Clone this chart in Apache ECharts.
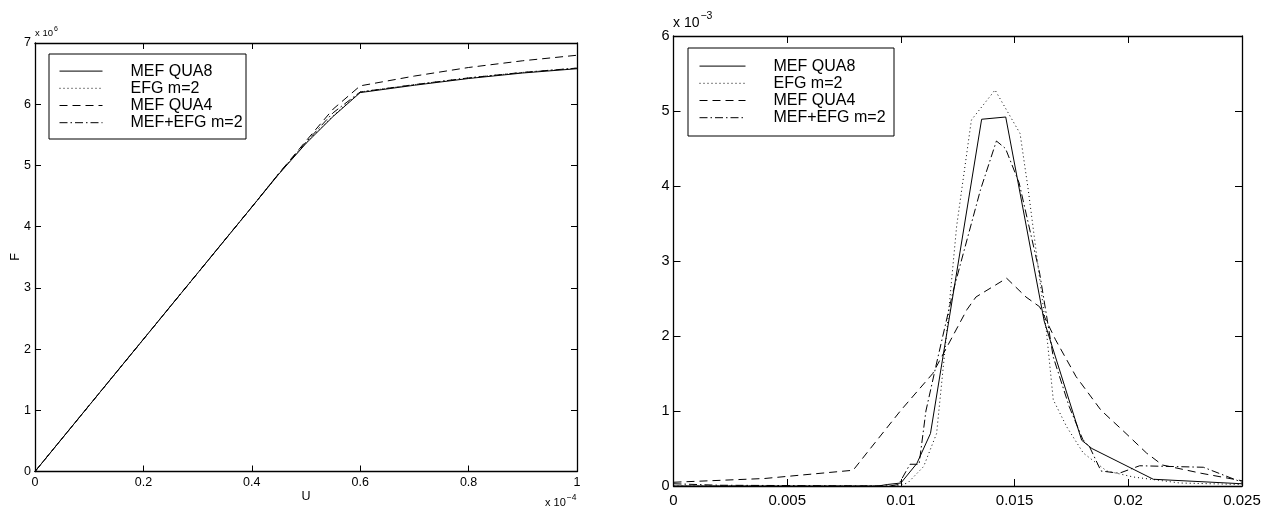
<!DOCTYPE html>
<html><head><meta charset="utf-8">
<script src="https://cdn.jsdelivr.net/npm/echarts@6/dist/echarts.min.js"></script>
<style>html,body{margin:0;padding:0;background:#fff}#c{width:1264px;height:509px}</style>
</head><body><div id="c"></div>
<script>
// ---- Left chart data: F (x1e6) vs U (x1e-4)
const seriesNames = ['MEF QUA8', 'EFG m=2', 'MEF QUA4', 'MEF+EFG m=2'];
const leftU      = [0, 0.1, 0.2, 0.3, 0.4, 0.45, 0.5, 0.55, 0.6, 0.7, 0.8, 0.9, 1.0];
const leftQUA8   = [0, 1.08, 2.16, 3.24, 4.32, 4.86, 5.36, 5.8, 6.19, 6.31, 6.42, 6.51, 6.58];
const leftEFG    = [0, 1.08, 2.16, 3.24, 4.32, 4.86, 5.37, 5.81, 6.2, 6.32, 6.43, 6.52, 6.59];
const leftQUA4   = [0, 1.08, 2.16, 3.24, 4.32, 4.87, 5.4, 5.92, 6.3, 6.46, 6.6, 6.71, 6.8];
const leftMIX    = [0, 1.08, 2.16, 3.24, 4.32, 4.87, 5.38, 5.86, 6.2, 6.32, 6.43, 6.52, 6.59];
const leftXTicks = [0, 1, 0.2];   // min, max, interval
const leftYTicks = [0, 7, 1];

// ---- Right chart data (y x1e-3)
const rQUA8x = [0, 0.009, 0.0094, 0.0100, 0.0107, 0.0113, 0.01355, 0.01461, 0.0163, 0.01795, 0.0184, 0.0211, 0.025];
const rQUA8y = [0, 0, 0.02, 0.04, 0.30, 0.70, 4.89, 4.92, 2.2, 0.61, 0.50, 0.09, 0.03];
const rEFGx  = [0, 0.0098, 0.0103, 0.0110, 0.01157, 0.0120, 0.01245, 0.0131, 0.01414, 0.01524, 0.0156, 0.0164, 0.0167, 0.01729, 0.01802, 0.01905, 0.02022, 0.02227, 0.025];
const rEFGy  = [0, 0, 0.04, 0.26, 0.70, 2.0, 3.46, 4.88, 5.28, 4.70, 3.95, 2.06, 1.15, 0.79, 0.44, 0.20, 0.12, 0.04, 0.02];
const rQUA4x = [0, 0.004, 0.0079, 0.0085, 0.0100, 0.0114, 0.0129, 0.0133, 0.01465, 0.0155, 0.0161, 0.0168, 0.0177, 0.0188, 0.0199, 0.0208, 0.0215, 0.0232, 0.025];
const rQUA4y = [0.05, 0.10, 0.21, 0.44, 1.01, 1.50, 2.35, 2.52, 2.77, 2.52, 2.39, 1.95, 1.46, 1.01, 0.70, 0.44, 0.28, 0.17, 0.07];
const rMIXx  = [0, 0.002, 0.0095, 0.0099, 0.0104, 0.0108, 0.0111, 0.0116, 0.0123, 0.0135, 0.0142, 0.0146, 0.0152, 0.0161, 0.0167, 0.0174, 0.0180, 0.0183, 0.0188, 0.0196, 0.0205, 0.0233, 0.025];
const rMIXy  = [0.03, 0.01, 0, 0.02, 0.29, 0.29, 1.0, 1.68, 2.6, 3.95, 4.6, 4.5, 4.04, 2.84, 1.72, 1.06, 0.62, 0.52, 0.20, 0.17, 0.27, 0.25, 0.05];
const rightXTicks = [0, 0.025, 0.005];
const rightYTicks = [0, 6, 1];

const pairs = (xs, ys) => xs.map((x, i) => [x, ys[i]]);
const FONT = 'Liberation Sans, Arial, Helvetica, sans-serif';
const styles = [
  {type: 'solid'},
  {type: [1, 3]},
  {type: [8, 5]},
  {type: [8, 3, 1.5, 3]}
];

function axesFor(grid, ticks, isX, fs, tickLen, margin) {
  const main = {
    type: 'value', gridIndex: grid, min: ticks[0], max: ticks[1], interval: ticks[2],
    position: isX ? 'bottom' : 'left',
    axisLine: {show: true, onZero: false, lineStyle: {color: '#000', width: 1.3}},
    axisTick: {show: true, inside: true, length: tickLen, lineStyle: {color: '#000', width: 1}},
    axisLabel: {show: true, color: '#000', fontSize: fs, fontFamily: FONT, margin: margin},
    splitLine: {show: false}
  };
  const sec = JSON.parse(JSON.stringify(main));
  sec.position = isX ? 'top' : 'right';
  sec.axisLabel = {show: false};
  return [main, sec];
}

const lx = axesFor(0, leftXTicks, true, 12.5, 6, 5);
const ly = axesFor(0, leftYTicks, false, 12.5, 6, 4);
const rx = axesFor(1, rightXTicks, true, 15, 7, 7);
const ry = axesFor(1, rightYTicks, false, 14.5, 7, 4);

const leftData = [leftQUA8, leftEFG, leftQUA4, leftMIX];
const rightData = [pairs(rQUA8x, rQUA8y), pairs(rEFGx, rEFGy), pairs(rQUA4x, rQUA4y), pairs(rMIXx, rMIXy)];

const series = [];
seriesNames.forEach((n, i) => {
  series.push({
    name: n, type: 'line', xAxisIndex: 0, yAxisIndex: 0, symbol: 'none', smooth: false,
    lineStyle: {color: '#000', width: 1, type: styles[i].type},
    itemStyle: {color: '#000'},
    data: pairs(leftU, leftData[i]), z: 5 - i
  });
});
seriesNames.forEach((n, i) => {
  series.push({
    name: n, type: 'line', xAxisIndex: 2, yAxisIndex: 2, symbol: 'none', smooth: false,
    lineStyle: {color: '#000', width: 1, type: styles[i].type},
    itemStyle: {color: '#000'},
    data: rightData[i], z: 5 - i
  });
});

const legendCommon = {
  show: true, orient: 'vertical', itemGap: 0, itemHeight: 12,
  itemStyle: {opacity: 0, borderWidth: 0},
  lineStyle: {width: 1, color: '#000', type: 'inherit'},
  textStyle: {color: '#000', fontSize: 16, fontFamily: FONT, lineHeight: 17.2, padding: [0, 0, 0, 23]},
  selectedMode: false, data: seriesNames, padding: 0
};

const sup = (base, exp, x, y, fs, efs) => ({
  type: 'text', left: x, top: y, silent: true,
  style: {
    text: '{a|' + base + '}{b|' + exp + '}',
    rich: {
      a: {fontSize: fs, fontFamily: FONT, fill: '#000', verticalAlign: 'bottom'},
      b: {fontSize: efs, fontFamily: FONT, fill: '#000', verticalAlign: 'top', padding: [0, 0, fs * 0.6, 1]}
    }
  }
});

const option = {
  animation: false,
  backgroundColor: '#fff',
  grid: [
    {left: 35, top: 43, width: 542, height: 428.5},
    {left: 673.5, top: 36, width: 568.5, height: 450}
  ],
  xAxis: [lx[0], lx[1], rx[0], rx[1]],
  yAxis: [ly[0], ly[1], ry[0], ry[1]],
  legend: [
    Object.assign({}, legendCommon, {left: 59, top: 62.5, itemWidth: 43}),
    Object.assign({}, legendCommon, {left: 699, top: 57.5, itemWidth: 46})
  ],
  series: series,
  graphic: [
    {type: 'rect', shape: {x: 49, y: 54, width: 197, height: 85}, style: {fill: 'none', stroke: '#000', lineWidth: 1}, z: 100},
    {type: 'rect', shape: {x: 688, y: 48, width: 206, height: 88}, style: {fill: 'none', stroke: '#000', lineWidth: 1}, z: 100},
    sup('x 10', '6', 35, 26, 9.5, 7),
    sup('x 10', '\u22123', 673, 11, 14, 10.5),
    sup('x 10', '\u22124', 545, 493, 11, 8.5),
    {type: 'text', x: 16, y: 257, rotation: Math.PI / 2, silent: true,
     style: {text: 'F', fontSize: 12.5, fontFamily: FONT, fill: '#000', align: 'center', verticalAlign: 'middle'}},
    {type: 'text', x: 306, y: 497, silent: true,
     style: {text: 'U', fontSize: 12.5, fontFamily: FONT, fill: '#000', align: 'center', verticalAlign: 'middle'}}
  ]
};
const chart = echarts.init(document.getElementById('c'), null, {renderer: 'canvas'});
chart.setOption(option);
</script></body></html>
